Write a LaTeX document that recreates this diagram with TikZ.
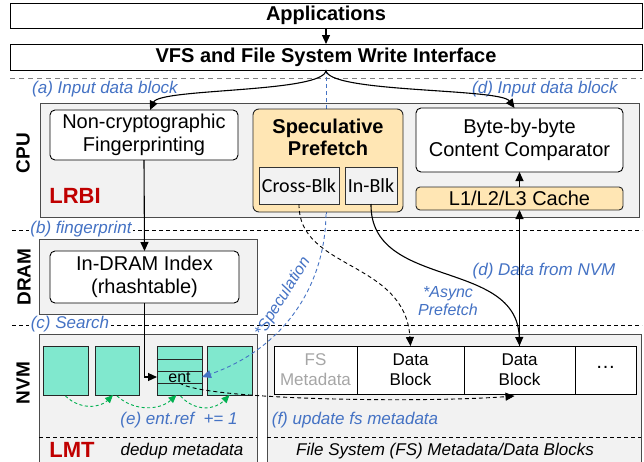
\documentclass[tikz,border=0pt]{standalone}
\usepackage{fontspec}
\setmainfont{Liberation Sans}
\newfontfamily\calib{Carlito}
\usetikzlibrary{arrows.meta,calc}
\newcommand\fsz[2]{\fontsize{#1}{#2}\selectfont}
\definecolor{lblue}{RGB}{68,114,196}
\definecolor{dred}{RGB}{192,0,0}
\definecolor{oran}{RGB}{255,230,180}
\definecolor{teal2}{RGB}{128,232,206}
\definecolor{grn}{RGB}{0,176,80}
\definecolor{pgray}{RGB}{242,242,242}
\begin{document}
\begin{tikzpicture}[x=1pt,y=-1pt,
  every node/.style={inner sep=0pt,outer sep=0pt},
  panel/.style={draw=black!70,fill=pgray,line width=0.9pt},
  sqbox/.style={draw=black,fill=white,line width=1pt,align=center},
  wbox/.style={draw=black,fill=white,rounded corners=5pt,line width=0.9pt,align=center,font=\fsz{20}{23}},
  obox/.style={draw=black!85,fill=oran,rounded corners=6pt,line width=0.9pt,align=center},
  gbox/.style={draw=black!80,fill=pgray,line width=0.9pt,font=\calib\fsz{20}{23}},
  tbox/.style={draw=black!85,fill=teal2,line width=0.9pt},
  cell/.style={draw=black,fill=white,line width=0.9pt,align=center,font=\fsz{17}{20}},
  arr/.style={-{Triangle[length=9pt,width=8pt]},line width=1.1pt},
  blk/.style={dash pattern=on 4pt off 3pt,line width=0.8pt},
  garr/.style={-{Triangle[length=8pt,width=7pt]},draw=grn,dash pattern=on 3pt off 2.5pt,line width=0.9pt},
  barr/.style={-{Triangle[length=9pt,width=8pt]},draw=lblue,dash pattern=on 4pt off 3pt,line width=0.9pt},
  lbl/.style={text=lblue,font=\itshape\fsz{17}{20}},
  lay/.style={rotate=90,font=\bfseries\fsz{19}{21}},
  red/.style={text=dred,font=\bfseries\fsz{22}{24}}
]
\useasboundingbox (0,0) rectangle (644,461);
\clip (0,0) rectangle (644,461);
\fill[white] (0,0) rectangle (644,461);

% top boxes
\node[sqbox,minimum width=632pt,minimum height=25pt,font=\bfseries\fsz{20}{23}] (apps) at (326,15.5) {Applications};
\node[sqbox,minimum width=632pt,minimum height=26pt,font=\bfseries\fsz{20}{23}] (vfs) at (326,57) {VFS and File System Write Interface};
\draw[arr] (apps.south) -- (vfs.north);

% separators
\draw[draw=black!50,dash pattern=on 5pt off 4pt,line width=0.9pt] (10,78) -- (642,78);
\draw[blk] (12,230) -- (642,230);
\draw[blk] (12,325) -- (642,325);

% panels
\draw[panel] (40,103) rectangle (639,217);
\draw[panel] (39,239) rectangle (257,314);
\draw[panel] (39,334) rectangle (257,480);
\draw[panel] (267,334) rectangle (641,480);
\draw[blk] (39,437) -- (257,437);
\draw[blk] (267,437) -- (641,437);

% blue speculation vertical part (behind spec box)
\coordinate (sx) at (326,214);
\draw[draw=lblue,dash pattern=on 4pt off 3pt,line width=0.9pt] (vfs.south) -- (sx);

% layer labels
\node[lay] (cpul) at (23,153) {CPU};
\node[lay] (draml) at (24,277) {DRAM};
\node[lay] (nvml) at (23,383) {NVM};
\node[red] (lrbi) at (75,196) {LRBI};
\node[red] (lmt) at (72,449.5) {LMT};
\node[font=\itshape\fsz{17}{20}] (dedup) at (182,451) {dedup metadata};
\node[font=\itshape\fsz{17}{20}] (fsl) at (445,451) {File System (FS) Metadata/Data Blocks};

% CPU boxes
\node[wbox,minimum width=188pt,minimum height=50pt] (nc) at (144,135) {Non-cryptographic\\Fingerprinting};
\node[obox,minimum width=150pt,minimum height=103pt] (spec) at (328,160.5) {};
\node[font=\bfseries\fsz{20}{22},align=center] (spect) at (328,137) {Speculative\\Prefetch};
\node[gbox,minimum width=80pt,minimum height=37pt] (cross) at (299,185.5) {Cross-Blk};
\node[gbox,minimum width=52pt,minimum height=37pt] (inblk) at (371,185.5) {In-Blk};
\node[wbox,minimum width=207pt,minimum height=64pt] (byte) at (519.5,140) {Byte-by-byte\\Content Comparator};
\node[obox,rounded corners=4pt,minimum width=207pt,minimum height=23pt,font=\fsz{20}{23}] (cache) at (519.5,198.5) {L1/L2/L3 Cache};

% DRAM
\node[wbox,minimum width=189pt,minimum height=52pt] (idx) at (144.5,277) {In-DRAM Index\\(rhashtable)};

% NVM left blocks
\node[tbox,minimum width=45pt,minimum height=49pt] (b1) at (65.5,370.5) {};
\node[tbox,minimum width=44pt,minimum height=49pt] (b2) at (117,370.5) {};
\node[tbox,minimum width=45pt,minimum height=13pt] (r1) at (179.5,352.5) {};
\node[tbox,minimum width=45pt,minimum height=12pt] (r2) at (179.5,365) {};
\node[tbox,minimum width=45pt,minimum height=12pt,font=\fsz{16}{18}] (ent) at (179.5,377) {ent};
\node[tbox,minimum width=45pt,minimum height=12pt] (r4) at (179.5,389) {};
\node[tbox,minimum width=45pt,minimum height=49pt] (b4) at (229.5,370.5) {};

% FS cells
\node[cell,minimum width=83pt,minimum height=48pt,text=black!35] (c1) at (315.5,370) {FS\\Metadata};
\node[cell,minimum width=107pt,minimum height=48pt] (c2) at (410.5,370) {Data\\Block};
\node[cell,minimum width=111pt,minimum height=48pt] (c3) at (519.5,370) {Data\\Block};
\node[cell,minimum width=61pt,minimum height=48pt,font=\fsz{20}{22}] (c4) at (605.5,370) {\raisebox{0.45ex}{\dots}};

% labels
\node[lbl] (la) at (105,89) {(a) Input data block};
\node[lbl] (ld) at (545,89) {(d) Input data block};
\node[lbl,fill=white,inner xsep=1.5pt,inner ysep=1pt] (lb) at (81,229) {(b) fingerprint};
\node[lbl,fill=white,inner xsep=2pt,inner ysep=1pt] (lc) at (70,324) {(c) Search};
\node[lbl] (ldn) at (544,271) {(d) Data from NVM};
\node[lbl,font=\itshape\fsz{16}{18},align=center] (lasync) at (448,301) {*Async\\Prefetch};
\node[lbl,font=\itshape\fsz{16}{18},rotate=58] (lspec) at (283,297) {*Speculation};
\node[lbl] (le) at (179,420) {(e) ent.ref \ += 1};
\node[lbl] (lf) at (355,420) {(f) update fs metadata};

% connectors
\draw[arr] (vfs.south) .. controls (326,93) and (160,88) .. ($(nc.north)+(6,0)$);
\draw[arr] (vfs.south) .. controls (326,93) and (500,88) .. ($(byte.north)+(-5,0)$);
\draw[arr] (nc.south) -- (idx.north);
\draw[arr] (idx.south) |- (ent.west);
\draw[arr] (cache.north) -- (byte.south);
\draw[arr] (c3.north) -- (cache.south);
\draw[arr] (inblk.south) .. controls (370,290) and (517,258) .. (c3.north);
\draw[arr,dash pattern=on 4pt off 3pt,line width=0.9pt] (cross.south) .. controls (298,270) and (405,260) .. (c2.north);
\draw[arr,dash pattern=on 4pt off 3pt,line width=0.9pt] (ent.south) .. controls (205,400) and (420,403) .. ($(c3.south)+(-5,2)$);
\draw[barr] (sx) .. controls (325,290) and (280,350) .. (ent.east);
\draw[garr] ($(b1.south)+(0,1)$) .. controls (80,410) and (100,408) .. ($(b2.south)+(-4,0)$);
\draw[garr] ($(b2.south)+(0,1)$) .. controls (135,412) and (160,410) .. ($(r4.south)+(-3,0)$);
\draw[garr] ($(r4.south)+(1,1)$) .. controls (195,412) and (215,410) .. (b4.south);
\end{tikzpicture}
\end{document}
